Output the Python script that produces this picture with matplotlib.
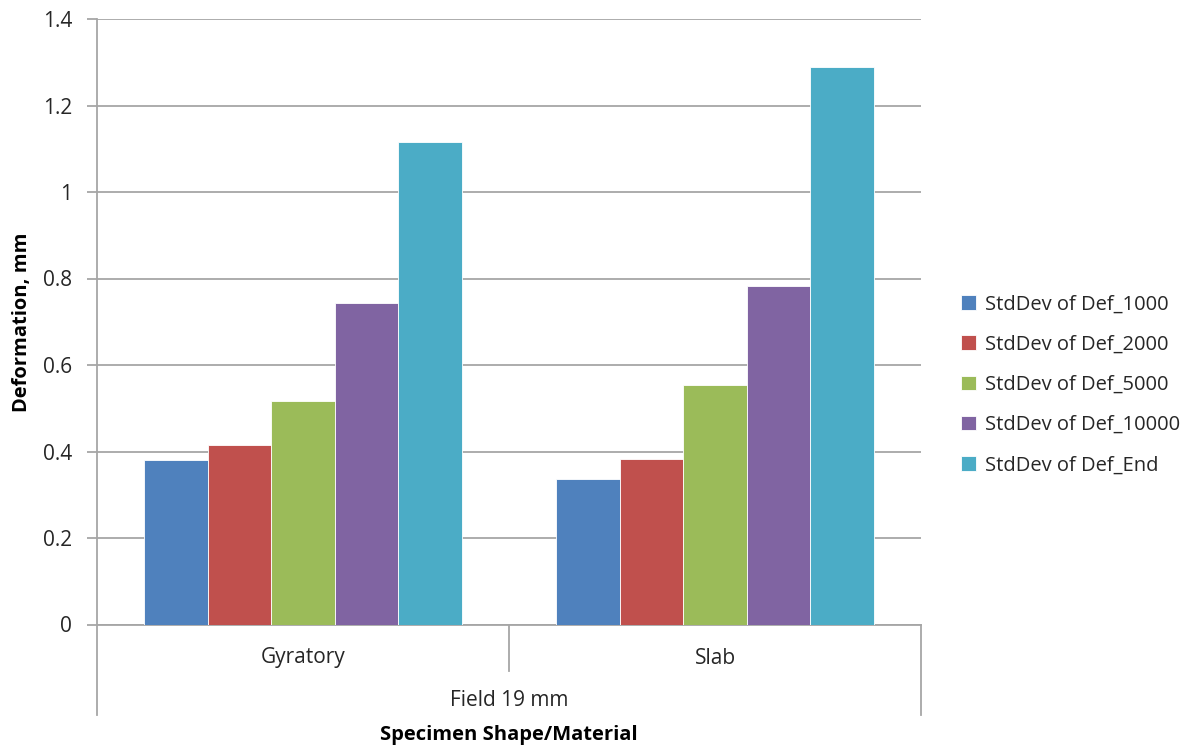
import matplotlib
matplotlib.use("Agg")
import matplotlib.pyplot as plt
import numpy as np

plt.rcParams['font.family'] = ['Open Sans', 'DejaVu Sans']

# data
categories = ['Gyratory', 'Slab']
series = ['StdDev of Def_1000', 'StdDev of Def_2000', 'StdDev of Def_5000',
          'StdDev of Def_10000', 'StdDev of Def_End']
def_1000 = [0.380, 0.336]
def_2000 = [0.415, 0.383]
def_5000 = [0.517, 0.553]
def_10000 = [0.743, 0.783]
def_end = [1.116, 1.289]
values = [def_1000, def_2000, def_5000, def_10000, def_end]
colors = ['#4F81BD', '#C0504D', '#9BBB59', '#8064A2', '#4BACC6']
yticks = [0, 0.2, 0.4, 0.6, 0.8, 1.0, 1.2, 1.4]
yticklabels = ['0', '0.2', '0.4', '0.6', '0.8', '1', '1.2', '1.4']

W, H = 1191, 747
fig = plt.figure(figsize=(W / 100, H / 100), dpi=100)
left, right, top, bottom = 97, 921, 19, 624.5
ax = fig.add_axes([left / W, 1 - bottom / H, (right - left) / W, (bottom - top) / H])

grid_c = '#A6A6A6'
txt_c = '#262626'
x = np.arange(len(categories))
bw = 0.154
for i, (vals, c, name) in enumerate(zip(values, colors, series)):
    ax.bar(x + (i - 2) * bw, vals, width=bw, color=c, edgecolor='white',
           linewidth=0.6, label=name, zorder=3)

ax.set_xlim(-0.5, 1.5)
ax.set_ylim(0, 1.4)
ax.set_yticks(yticks)
ax.set_yticklabels(yticklabels, fontsize=15, color=txt_c)
ax.yaxis.grid(True, color=grid_c, linewidth=1.3, zorder=0)
ax.set_axisbelow(True)
ax.tick_params(axis='y', length=7, width=1.3, color=grid_c, pad=11)
ax.set_xticks([])
for s in ['top', 'right']:
    ax.spines[s].set_visible(False)
for s in ['left', 'bottom']:
    ax.spines[s].set_color(grid_c)
    ax.spines[s].set_linewidth(1.3)

# category separators below the axis
tr = ax.get_xaxis_transform()
ph = bottom - top
for xv, depth in [(-0.5, 90), (0.5, 46), (1.5, 90)]:
    ax.plot([xv, xv], [0, -depth / ph], color=grid_c, lw=1.3, transform=tr,
            clip_on=False)
for xi, cat in zip(x, categories):
    ax.text(xi, -(658 - bottom) / ph, cat, transform=tr, ha='center',
            va='center', fontsize=15, color=txt_c)
ax.text(0.5, -(700 - bottom) / ph, 'Field 19 mm', transform=tr, ha='center',
        va='center', fontsize=15, color=txt_c)
fig.text(509 / W, 1 - 735 / H, 'Specimen Shape/Material', ha='center',
         va='center', fontsize=14.5, fontweight='bold', color='#000000')
fig.text(22 / W, 1 - 322 / H, 'Deformation, mm', ha='center', va='center',
         rotation=90, fontsize=14.5, fontweight='bold', color='#000000')

leg = fig.legend(loc='center left', bbox_to_anchor=(953 / W, 1 - 385 / H),
                 frameon=False, fontsize=14.5, handlelength=0.75, handleheight=0.75,
                 handletextpad=0.45, labelspacing=1.0, borderaxespad=0)
for t in leg.get_texts():
    t.set_color(txt_c)

fig.savefig('out.png', dpi=100)
